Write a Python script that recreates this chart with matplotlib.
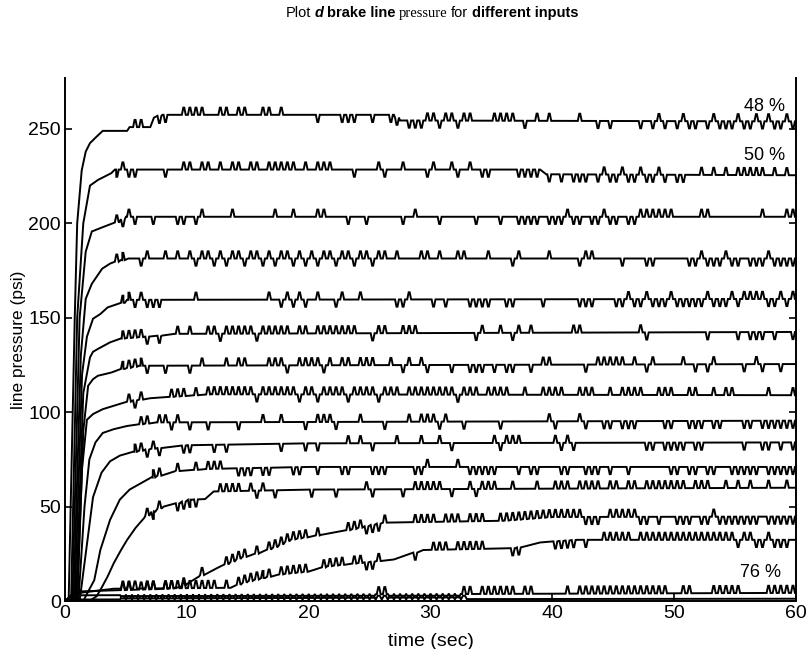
import numpy as np
import matplotlib
matplotlib.use("Agg")
import matplotlib.pyplot as plt

# ---------------- data ----------------
labels = ["48 %", "50 %", "76 %"]
label_pos_t = [57.4, 57.4, 57.1]
label_pos_p = [262, 236, 15]

x_ticks = [0, 10, 20, 30, 40, 50, 60]
y_ticks = [0, 50, 100, 150, 200, 250]

# knots (time s, pressure psi) for each curve, top to bottom
t1 = [0, 0.3, 0.8, 1.0, 1.37, 1.7, 2.05, 2.6, 3.1, 5.1, 5.3, 7.0, 7.3, 8.0, 27.0, 27.5, 60]
p1 = [0, 0, 150, 200, 228, 238, 242.5, 246, 249, 249, 251, 251, 256, 257.5, 257.5, 254.5, 254]
t2 = [0, 0.5, 1.0, 1.5, 2.05, 2.7, 3.8, 4.2, 39, 39.5, 60]
p2 = [0, 0, 150, 200, 220, 223, 226.6, 228.5, 228.5, 226, 225.5]
t3 = [0, 0.6, 1.2, 1.7, 2.2, 3.1, 4.5, 5.0, 60]
p3 = [0, 0, 150, 185, 195.7, 198, 201, 203.5, 203.5]
t4 = [0, 0.7, 1.3, 1.7, 2.2, 3.05, 3.7, 4.7, 5.2, 60]
p4 = [0, 0, 130, 160, 168, 176, 178.7, 180.5, 181.4, 181.4]
t5 = [0, 0.8, 1.4, 1.8, 2.3, 2.9, 3.5, 4.8, 5.2, 60]
p5 = [0, 0, 120, 140, 149.5, 152, 155.5, 158, 159.5, 160]
t6 = [0, 0.9, 1.5, 2.05, 2.3, 2.7, 3.7, 4.65, 7.9, 9, 60]
p6 = [0, 0, 110, 129, 132, 133.5, 137, 139, 140.6, 141.5, 142.5]
t7 = [0, 1.0, 1.5, 1.9, 2.3, 2.7, 3.8, 4.8, 6.2, 60]
p7 = [0, 0, 90, 114, 117.5, 119.3, 121, 123, 124.6, 125.5]
t8 = [0, 1.0, 1.4, 1.8, 2.3, 3.1, 4.0, 5.5, 7.0, 12, 60]
p8 = [0, 0, 70, 96, 99, 101.6, 103.4, 106, 107.4, 109.5, 109]
t9 = [0, 1.1, 1.6, 2.0, 2.5, 3.1, 4.0, 5.1, 7.5, 60]
p9 = [0, 0, 50, 75, 84, 89, 91, 92.7, 94.6, 95.5]
t10 = [0, 1.2, 1.8, 2.3, 3.0, 3.7, 4.5, 5.7, 7, 10, 20, 60]
p10 = [0, 0, 30, 55, 68, 74, 77, 79, 80.5, 82.5, 83.5, 84]
t11 = [0, 1.5, 1.9, 2.4, 2.9, 3.7, 4.5, 5.3, 7.2, 9.1, 12, 20, 60]
p11 = [0, 0, 5, 11, 27, 43, 53.7, 59, 65.4, 68.8, 70, 71, 71]
t12 = [0, 2.0, 2.6, 3.0, 3.5, 4.0, 4.6, 5.1, 5.8, 6.5, 7.3, 8.1, 9.4, 10.3, 11.5, 12.2, 20, 60]
p12 = [0, 0, 2.5, 7, 13, 20, 27, 32.4, 38.8, 44, 47.5, 50, 52, 53.7, 54, 58, 59, 60]
t13 = [0, 0.8, 8.5, 9.5, 10, 11, 12.5, 13.5, 14.5, 16, 17.5, 18.5, 21, 23.5, 26.1, 36, 40, 60]
p13 = [0, 5, 6.5, 7.5, 9, 13, 17.5, 20, 23, 25.5, 29, 32.4, 35, 37.8, 41.5, 42.5, 44.5, 44.7]
t14 = [0, 0.8, 4, 13.6, 15, 16.3, 17.4, 18.5, 20, 21.5, 24, 27, 29.4, 37, 39, 42, 60]
p14 = [0, 4, 6.5, 7, 10.3, 12.2, 13.8, 14.7, 15.6, 18.3, 20, 22, 27, 28, 31, 32.4, 32.4]
t15 = [0, 0.6, 60]
p15 = [0, 3, 4.3]
t16 = [0, 60]
p16 = [0.8, 1.2]

# quantisation spikes, one character per 0.5 s ('^' up, 'v' down, 'o'/'u' small up/down)
s1 = ["-----------^^--vv--^", "^^^--^^-^^--^^-^----", "-v---vvv--v--vv-vvv^",
      "^v^^v^^---^^^^-v-^-^", "----^--v-v----v-v^v-", "v^vv-v^vvv^vv^v^vv^v"]
s2 = ["--------v^vv----v--^", "^-^^-^-^^-^^-^^^^^-^", "-^^^---v---^v--^---v",
      "^--^v-^-vv----vvvv-v", "-v-vvv-v^vv^vv^vv^v-", "vv--^-^-^-^^^^^-^-^-"]
s3 = ["--------^v^v--v---vv", "-v^----^------^--^--", "-^^---v--v-----v-^--",
      "-v-----v---v--vvvv-v", "vv^vv-vv^vv-vv^^^^^^", "----^^--------^---^^"]
s4 = ["--------^^--v^--^-^-", "^v^^v^v^^v^^v^v^^v^v", "^v^^v^^v^^v^^-^---^^",
      "-^--^^---^---v^----^", "----v^^----v---vv---", "--vv^vvv^vv-vvv^vvvv"]
s5 = ["---------^^v^vvv----", "-^-----------^-v^v^v", "-^--v^--^-----vv^---",
      "v-v---vvvv--vv----v-", "----vvv---vv^vv^vvv^", "vvvvv^vvv^v^^^^vv^v^"]
s6 = ["---------^^^^v-v--^-", "^--^^v^^^^^v^^^^^-^^", "-^^^^^^^--v^^--^^^--",
      "-------v^--^-v^-^---", "---^^---------^v----", "-----v----v-vvv-v--v"]
s7 = ["---------^^^^v--v---", "v-^---^-^^---^^^v-^^", "^^v^-^^-^^^--^-v^-^v",
      "---v--vvv-v-vv--v-^^", "-----v-^^^^^-^-v^---", "-^-v-v^----v-^v--v--"]
s8 = ["----------^v^----^^^", "-^-^^^^^^^^v^^^^^^v^", "^v^^^^v^^^^v^^^-^^^^",
      "^^^^v^^^-^^^^--^--^^", "^^--^^^--^-^^^^--^^^", "--^^--^-^^-----^---^"]
s9 = ["------------^^-^^v^-", "v--v----v---^--^---v", "-^^^v---^---v---^-^^",
      "^v^--v-----v-------^", "v---^v--vv-vvv----vv", "--vvv-vv---vv-vvvvvv"]
s10 = ["-----------^^v^v---v", "v---v-v--------v---v", "-v----^-^-v---^---^-",
       "-^-v------^v^^^-----", "^v^v-----------vv-vv", "vv-vv------v--vv-v-v"]
s11 = ["--------------^^--^-", "-^-^^^--vvv-vv---vv-", "-v---vv---vvv----vv^",
       "----^-vvvvv---v-vv--", "-vv--vvv-v--v------v", "v-vv-vv--vvvvv-vvvvv"]
s12 = ["-------------^v^--vv", "vv---^^^^-^v^-v-----", "v---v----^v----v-^^^",
       "^^-v--^v^^^--^---^--", "^^^-^^^^-^^-^^-^^^^^", "^^-^^^--^-^-^--^--^-"]
s13 = ["---------^^-^^^-^^-^", "--^---^^^^-^-^^^^^^^", "-^----^^^vvv^----^^^",
       "^-^^^-^^^--^^^^^^^^^", "^^^^^vvv-^^^^^vv-v--", "vvv-vv^vvvvvvv-vvvvv"]
s14 = ["---------^^^-^^-^^^^", "^^^^^-^-^^^^^^-^^^^^", "--^^^^-^^vv^-----v--",
       "^^^-^^^^^----vv-----", "vvvv-v--^^^^^-^^^^^^", "^^^^^^^^^^v^^vv^vvv-"]
s15 = ["---------uuuuuuuuuuu", "uuuuuuuuuuuuuuuuuuuu", "uuuuuuuuuuu^^uuuuuuu",
       "uuuuu^^-^^^^^^-^^---", "--^-^^^^^^^^^^^^^^^-", "-^^---^^^^^----^^^^^"]
s16 = ["---------ooooooooooo", "oooooooooooooooooooo", "oooooooooooooooooooo",
       "oooooo--------------", "--------------------", "--------------------"]

curves_t = [t1, t2, t3, t4, t5, t6, t7, t8, t9, t10, t11, t12, t13, t14, t15, t16]
curves_p = [p1, p2, p3, p4, p5, p6, p7, p8, p9, p10, p11, p12, p13, p14, p15, p16]
spikes = [s1, s2, s3, s4, s5, s6, s7, s8, s9, s10, s11, s12, s13, s14, s15, s16]

# ---------------- drawing ----------------
SLOT = 0.5
SHAPES = {'^': (3.8, 0.16, 0.04), 'v': (-3.8, 0.16, 0.04),
          'o': (1.8, 0.23, 0.08), 'u': (-1.8, 0.23, 0.08)}


def build_path(tk, pk, segs):
    pattern = "".join(s.ljust(20, '-')[:20] for s in segs)
    xs = list(tk)
    ys = list(pk)
    for i, ch in enumerate(pattern):
        if ch not in SHAPES:
            continue
        tc = i * SLOT + SLOT / 2
        if tc <= tk[0] or tc >= tk[-1]:
            continue
        h, w, top = SHAPES[ch]
        base = np.interp(tc, tk, pk)
        xs += [tc - w, tc - top, tc + top, tc + w]
        ys += [base, base + h, base + h, base]
    order = np.argsort(np.array(xs), kind="stable")
    return np.array(xs)[order], np.array(ys)[order]


plt.rcParams['font.family'] = ['Liberation Sans', 'DejaVu Sans']

fig = plt.figure(figsize=(8.1, 6.49), dpi=100)
ax = fig.add_axes([65 / 810, 48 / 649, 731 / 810, 523 / 649])

for tk, pk, sp in zip(curves_t, curves_p, spikes):
    x, y = build_path(tk, pk, sp)
    ax.plot(x, y, color='black', lw=1.4, solid_joinstyle='miter')

for lab, lt, lp in zip(labels, label_pos_t, label_pos_p):
    ax.text(lt, lp, lab, fontsize=13, ha='center', va='center')

ax.set_xlim(0, 60)
ax.set_ylim(0, 277)
ax.set_xticks(x_ticks)
ax.set_yticks(y_ticks)
ax.tick_params(direction='in', length=5, width=1.2, labelsize=14, right=True, top=False,
               pad=3)
for side in ['left', 'right', 'bottom']:
    ax.spines[side].set_linewidth(1.4)
ax.spines['top'].set_visible(False)

ax.set_xlabel('time (sec)', fontsize=14)
ax.set_ylabel('line pressure (psi)', fontsize=12.5)
ax.xaxis.set_label_coords(0.5, -0.062)
ax.yaxis.set_label_coords(-0.054, 0.5)

# title assembled from pieces to mimic the scanned lettering
pieces = [("Plot", dict(family='Liberation Sans')),
          ("d", dict(family='Liberation Sans', weight='bold', style='italic')),
          ("brake line", dict(family='Liberation Sans', weight='bold')),
          ("pressure", dict(family='Liberation Serif')),
          ("for", dict(family='Liberation Sans')),
          ("different inputs", dict(family='Liberation Sans', weight='bold'))]
fig.canvas.draw()
renderer = fig.canvas.get_renderer()
title_y = 1 - 13 / 649
fs = 10.5
objs = []
widths = []
for txt, kw in pieces:
    o = fig.text(0, title_y, txt, fontsize=fs, va='center', ha='left', **kw)
    objs.append(o)
    widths.append(o.get_window_extent(renderer).width)
space = 3.5
total = sum(widths) + space * (len(widths) - 1)
x = 432 - total / 2
for o, w in zip(objs, widths):
    o.set_x(x / 810)
    x += w + space

fig.savefig('out.png', dpi=100)
